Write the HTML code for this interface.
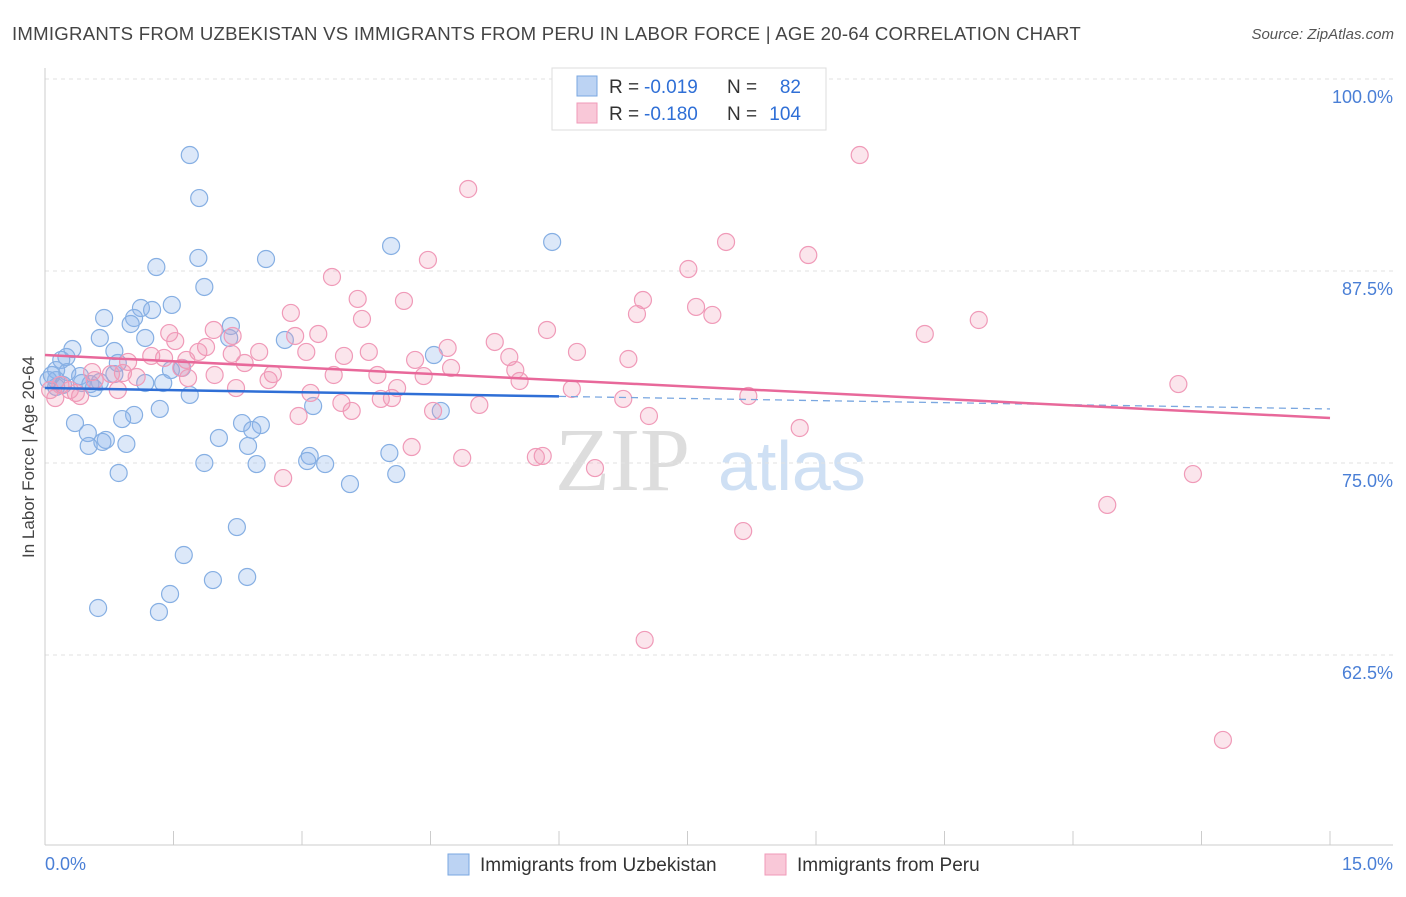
<!DOCTYPE html>
<html><head><meta charset="utf-8"><style>
body{margin:0;background:#fff;font-family:"Liberation Sans",sans-serif;}
</style></head><body>
<svg id="chart" width="1406" height="892" xmlns="http://www.w3.org/2000/svg" font-family="Liberation Sans, sans-serif">
<text x="12" y="40" font-size="18.6" fill="#444" letter-spacing="0.25">IMMIGRANTS FROM UZBEKISTAN VS IMMIGRANTS FROM PERU IN LABOR FORCE | AGE 20-64 CORRELATION CHART</text>
<text x="1394" y="39" font-size="15" fill="#555" text-anchor="end" font-style="italic">Source: ZipAtlas.com</text>
<text transform="translate(34,457) rotate(-90)" font-size="17" fill="#444" text-anchor="middle">In Labor Force | Age 20-64</text>
<text x="555" y="490" font-size="90" fill="#ddd" font-family="Liberation Serif, serif">ZIP</text>
<text x="718" y="490" font-size="70" fill="#cfe0f4">atlas</text>
<g id="grid"></g><g id="axes"></g><g id="marks"></g>
<g>
<rect x="552" y="68" width="274" height="62" fill="#fff" stroke="#ddd"/>
<rect x="577" y="76" width="20" height="20" fill="#bcd3f3" stroke="#7aa7e0"/>
<rect x="577" y="103" width="20" height="20" fill="#f9c8d8" stroke="#f09ab8"/>
<text x="609" y="93" font-size="19" fill="#333">R =</text>
<text x="644" y="93" font-size="19" fill="#2f6fd6">-0.019</text>
<text x="727" y="93" font-size="19" fill="#333">N =</text>
<text x="801" y="93" font-size="19" fill="#2f6fd6" text-anchor="end">82</text>
<text x="609" y="120" font-size="19" fill="#333">R =</text>
<text x="644" y="120" font-size="19" fill="#2f6fd6">-0.180</text>
<text x="727" y="120" font-size="19" fill="#333">N =</text>
<text x="801" y="120" font-size="19" fill="#2f6fd6" text-anchor="end">104</text>
</g>
<g>
<rect x="448" y="854" width="21" height="21" fill="#bcd3f3" stroke="#7aa7e0"/>
<text x="480" y="871" font-size="19" fill="#333">Immigrants from Uzbekistan</text>
<rect x="765" y="854" width="21" height="21" fill="#f9c8d8" stroke="#f09ab8"/>
<text x="797" y="871" font-size="19" fill="#333">Immigrants from Peru</text>
</g>
</svg>
<script>
const xTicks=[0,1.5,3,4.5,6,7.5,9,10.5,12,13.5,15];
const yTicks=[100,87.5,75,62.5];
const yTickLabels=["100.0%","87.5%","75.0%","62.5%"];
const uzX=[1.69,1.80,4.04,5.92,2.58,1.79,1.30,1.86,1.48,1.12,1.25,0.69,1.04,1.00,2.17,1.17,0.64,2.15,2.80,0.32,0.81,0.25,0.19,0.85,4.54,1.60,0.13,0.26,0.41,1.47,0.81,0.13,0.43,0.64,0.53,1.17,1.38,0.13,0.57,1.69,3.13,4.62,1.34,1.04,0.90,2.30,0.35,2.52,2.42,0.50,2.03,0.71,0.67,0.95,0.51,2.37,4.02,3.09,3.06,1.86,2.47,3.27,4.10,0.86,3.56,2.24,1.62,2.36,1.96,1.46,0.62,1.33,0.04,0.08,0.21];
const uzY=[95.05,92.25,89.13,89.39,88.28,88.35,87.76,86.46,85.29,85.09,84.96,84.44,84.44,84.05,83.92,83.14,83.14,83.14,83.01,82.42,82.29,81.90,81.71,81.51,82.03,81.19,81.05,80.92,80.66,81.05,80.79,80.40,80.21,80.27,80.14,80.21,80.21,79.95,79.88,79.43,78.71,78.39,78.52,78.13,77.86,77.60,77.60,77.47,77.15,76.95,76.63,76.50,76.37,76.24,76.11,76.11,75.65,75.46,75.13,75.00,74.93,74.93,74.28,74.35,73.63,70.83,69.01,67.58,67.38,66.47,65.56,65.30,80.40,80.73,80.08];
const peX=[9.51,4.94,7.95,8.91,7.51,4.47,3.35,3.65,6.98,4.19,7.60,2.87,6.91,7.79,3.70,10.90,5.86,10.27,3.19,1.45,1.97,2.19,2.92,5.25,1.52,6.21,6.81,3.78,3.05,2.50,1.24,1.88,1.79,2.18,3.49,4.70,4.32,5.42,1.39,1.65,4.74,2.33,5.49,1.59,0.97,3.37,0.91,2.66,3.88,4.42,1.67,0.55,0.77,1.07,2.61,5.54,13.23,6.15,2.23,4.11,3.10,4.05,3.92,6.75,8.21,0.85,0.36,0.41,3.46,5.07,4.53,3.58,2.96,7.05,8.81,4.28,4.87,5.81,5.73,6.42,2.78,13.40,12.40,8.15,7.00,13.75,0.06,0.12,0.18,0.29,0.58,1.98];
const peY=[95.05,92.84,89.39,88.54,87.63,88.22,87.11,85.68,85.61,85.55,85.16,84.77,84.70,84.64,84.38,84.31,83.66,83.40,83.40,83.46,83.66,83.27,83.27,82.88,82.94,82.23,81.77,82.23,82.23,82.23,81.97,82.55,82.23,82.10,81.97,82.49,81.71,81.90,81.84,81.71,81.19,81.51,81.05,81.19,81.58,80.73,80.86,80.79,80.73,80.66,80.53,80.92,80.79,80.60,80.40,80.34,80.14,79.82,79.88,79.88,79.56,79.23,79.17,79.17,79.36,79.75,79.56,79.36,78.91,78.78,78.39,78.39,78.06,78.06,77.28,76.04,75.33,75.46,75.39,74.67,74.02,74.28,72.27,70.57,63.48,56.97,79.75,79.23,80.08,79.75,80.40,80.73];
const uzTrend=[79.88,78.52];
const peTrend=[82.03,77.93];
const uzSolidEnd=6.0;
const NS="http://www.w3.org/2000/svg";
const X=v=>45+v/15*1285;
const Y=v=>79+(100-v)*15.36;
function mk(tag,attrs,parent){const e=document.createElementNS(NS,tag);for(const k in attrs)e.setAttribute(k,attrs[k]);parent.appendChild(e);return e;}
const grid=document.getElementById('grid'),axes=document.getElementById('axes'),marks=document.getElementById('marks');
yTicks.forEach((t,i)=>{
 const l=mk('line',{x1:45,x2:1393,y1:Y(t),y2:Y(t),stroke:'#e2e2e2','stroke-dasharray':'4,4'},grid);
 
 
 const tx=mk('text',{x:1393,y:Y(t)+24,'font-size':18,fill:'#4a7fd6','text-anchor':'end'},axes);
 tx.textContent=yTickLabels[i];
 
 
});
const ax=mk('line',{x1:45,x2:45,y1:68,y2:845,stroke:'#ccc'},axes);


const bx=mk('line',{x1:45,x2:1393,y1:845,y2:845,stroke:'#ccc'},axes);


xTicks.forEach(t=>{
 const l=mk('line',{x1:X(t),x2:X(t),y1:831,y2:845,stroke:'#ccc'},axes);
 
 
});
const xl0=mk('text',{x:45,y:870,'font-size':18,fill:'#4a7fd6'},axes);xl0.textContent=xTicks[0].toFixed(1)+'%';


const xl1=mk('text',{x:1393,y:870,'font-size':18,fill:'#4a7fd6','text-anchor':'end'},axes);xl1.textContent=xTicks[xTicks.length-1].toFixed(1)+'%';


uzX.forEach((v,i)=>{
 const c=mk('circle',{cx:X(v),cy:Y(uzY[i]),r:8.5,fill:'rgba(140,180,235,0.3)',stroke:'#86afe3','stroke-width':1.2},marks);
 
 
});
peX.forEach((v,i)=>{
 const c=mk('circle',{cx:X(v),cy:Y(peY[i]),r:8.5,fill:'rgba(240,150,180,0.25)',stroke:'#f09ab8','stroke-width':1.2},marks);
 
 
});
const yAt=(tr,x)=>tr[0]+(tr[1]-tr[0])*x/15;
const ul=mk('line',{x1:X(0),y1:Y(uzTrend[0]),x2:X(uzSolidEnd),y2:Y(yAt(uzTrend,uzSolidEnd)),stroke:'#2f6fd6','stroke-width':2.5},marks);


const ud=mk('line',{x1:X(uzSolidEnd),y1:Y(yAt(uzTrend,uzSolidEnd)),x2:X(15),y2:Y(uzTrend[1]),stroke:'#7aa7e0','stroke-width':1.3,'stroke-dasharray':'7,5'},marks);


const pl=mk('line',{x1:X(0),y1:Y(peTrend[0]),x2:X(15),y2:Y(peTrend[1]),stroke:'#e8689a','stroke-width':2.5},marks);


</script>
</body></html>
